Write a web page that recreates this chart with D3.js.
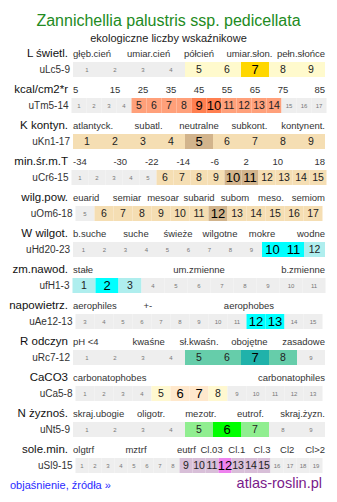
<!DOCTYPE html>
<html>
<head>
<meta charset="utf-8">
<script src="https://cdn.jsdelivr.net/npm/d3@7"></script>
<style>
  body { margin: 0; background: #fff; }
  text { font-family: "Liberation Sans", Arial, sans-serif; }
</style>
</head>
<body>
<div id="container"></div>
<script>
const title = "Zannichellia palustris ssp. pedicellata"
const subtitle = "ekologiczne liczby wskaźnikowe"

const rowNames = ["L świetl.", "kcal/cm2*r", "K kontyn.", "min.śr.m.T", "wilg.pow.", "W wilgot.",
    "zm.nawod.", "napowietrz.", "R odczyn", "CaCO3", "N żyznoś.", "sole.min."]
const rowCodes = ["uLc5-9", "uTm5-14", "uKn1-17", "uCr6-15", "uOm6-18", "uHd20-23",
    "ufH1-3", "uAe12-13", "uRc7-12", "uCa5-8", "uNt5-9", "uSl9-15"]
const headerLabels = [
    ["głęb.cień", "umiar.cień", "półcień", "umiar.słon.", "pełn.słońce"],
    ["5", "15", "25", "35", "45", "55", "65", "75", "85"],
    ["atlantyck.", "subatl.", "neutralne", "subkont.", "kontynent."],
    ["-34", "-30", "-22", "-14", "-6", "2", "10", "18"],
    ["euarid", "semiar", "mesoar", "subarid", "subom", "meso.", "semiom"],
    ["b.suche", "suche", "świeże", "wilgotne", "mokre", "wodne"],
    ["stałe", "um.zmienne", "b.zmienne"],
    ["aerophiles", "+-", "", "aerophobes", ""],
    ["pH <4", "kwaśne", "sł.kwaśn.", "obojętne", "zasadowe"],
    ["carbonatophobes", "carbonatophiles"],
    ["skraj.ubogie", "oligotr.", "mezotr.", "eutrof.", "skraj.żyzn."],
    ["olgtrf", "", "mztrf", "", "eutrf", "Cl.03", "Cl.1", "Cl.3", "Cl2", "Cl>2"]
]
// first and last value shown in each bar
const cellFirst = [1, 1, 1, 1, 5, 1, 1, 3, 1, 1, 1, 1]
const cellLast = [9, 17, 9, 15, 17, 12, 11, 15, 9, 13, 9, 19]
// indicator range and optimum
const rangeLo = [5, 5, 1, 6, 6, 10, 1, 12, 5, 5, 5, 9]
const rangeHi = [9, 14, 9, 15, 17, 12, 3, 13, 8, 8, 7, 15]
const optLo = [7, 9, 5, 10, 12, 10, 2, 12, 7, 6, 6, 12]
const optHi = [7, 10, 5, 11, 12, 11, 2, 13, 7, 7, 6, 12]

const rangeColors = ["#fffacd", "#ffa07a", "#f5deb3", "#f5deb3", "#f5deb3", "#afeeee",
    "#afeeee", "#afeeee", "#66cdaa", "#fff8d0", "#90ee90", "#d8bfd8"]
const optColors = ["#ffd700", "#ff7f50", "#d2b48c", "#d2b48c", "#d2b48c", "#00ffff",
    "#00ffff", "#00ffff", "#20b2aa", "#ffe8cc", "#00ff00", "#ee82ee"]
const offColor = "#eeeeee"

const width = 337, height = 502
const top0 = 62, pitch = 36, barH = 15
const hx0 = 73, hx1 = 325, cx = (hx0 + hx1) / 2

const svg = d3.select("#container").append("svg")
    .attr("width", width)
    .attr("height", height)

svg.append("text")
    .attr("x", 168.5).attr("y", 26)
    .attr("text-anchor", "middle")
    .attr("font-size", 16)
    .attr("fill", "#228b22")
    .text(title)

svg.append("text")
    .attr("x", 168.5).attr("y", 42)
    .attr("text-anchor", "middle")
    .attr("font-size", 11)
    .attr("fill", "#222")
    .text(subtitle)

rowNames.forEach((name, i) => {
    const y = top0 + i * pitch
    const g = svg.append("g")

    // header line
    g.append("text")
        .attr("x", 68).attr("y", y - 5)
        .attr("text-anchor", "end")
        .attr("font-size", 11.5)
        .attr("fill", "#111")
        .text(name)

    const labels = headerLabels[i]
    const ht = g.selectAll("text.h")
        .data(labels)
        .join("text")
        .attr("class", "h")
        .attr("y", y - 5)
        .attr("font-size", 9.5)
        .attr("fill", "#333")
        .text(d => d)

    // table-like columns: equal unless a label needs more room
    const n = labels.length
    const need = []
    ht.each(function () { need.push(this.getComputedTextLength() + 2) })
    let colW = labels.map(() => (hx1 - hx0) / n)
    const wide = need.map((w, k) => w > colW[k])
    if (wide.some(d => d)) {
        const fixed = d3.sum(need.filter((w, k) => wide[k]))
        const rest = ((hx1 - hx0) - fixed) / wide.filter(d => !d).length
        colW = need.map((w, k) => wide[k] ? w : rest)
    }
    const colX = [hx0].concat(Array.from(d3.cumsum(colW), d => hx0 + d))
    ht.attr("text-anchor", (d, k) => k === 0 ? "start" : k === n - 1 ? "end" : "middle")
        .attr("x", (d, k) => k === 0 ? colX[0] : k === n - 1 ? colX[n] : (colX[k] + colX[k + 1]) / 2)

    // bar
    const vals = d3.range(cellFirst[i], cellLast[i] + 1)
    const cw = Math.round((hx1 - hx0) / vals.length)
    const x0 = cx - vals.length * cw / 2
    const x = d3.scaleBand()
        .domain(vals)
        .range([x0, x0 + vals.length * cw])

    g.append("text")
        .attr("x", x0 - 3).attr("y", y + barH / 2)
        .attr("dy", "0.35em")
        .attr("text-anchor", "end")
        .attr("font-size", 10)
        .attr("fill", "#333")
        .text(rowCodes[i])

    const kind = v => v >= optLo[i] && v <= optHi[i] ? 2 : v >= rangeLo[i] && v <= rangeHi[i] ? 1 : 0

    g.selectAll("rect")
        .data(vals)
        .join("rect")
        .attr("x", d => x(d))
        .attr("y", y)
        .attr("width", x.bandwidth())
        .attr("height", barH)
        .attr("fill", d => [offColor, rangeColors[i], optColors[i]][kind(d)])

    g.selectAll("text.c")
        .data(vals)
        .join("text")
        .attr("class", "c")
        .attr("x", d => x(d) + x.bandwidth() / 2)
        .attr("y", y + barH / 2)
        .attr("dy", "0.36em")
        .attr("text-anchor", "middle")
        .attr("font-size", d => [6, 10.5, 13][kind(d)])
        .attr("fill", d => ["#777", "#222", "#000"][kind(d)])
        .text(d => d)
})

svg.append("text")
    .attr("x", 10).attr("y", 489)
    .attr("font-size", 11)
    .attr("fill", "#2a2aff")
    .text("objaśnienie, źródła »")

svg.append("text")
    .attr("x", 322).attr("y", 488)
    .attr("text-anchor", "end")
    .attr("font-size", 14.5)
    .attr("fill", "#7a1a8a")
    .text("atlas-roslin.pl")
</script>
</body>
</html>
